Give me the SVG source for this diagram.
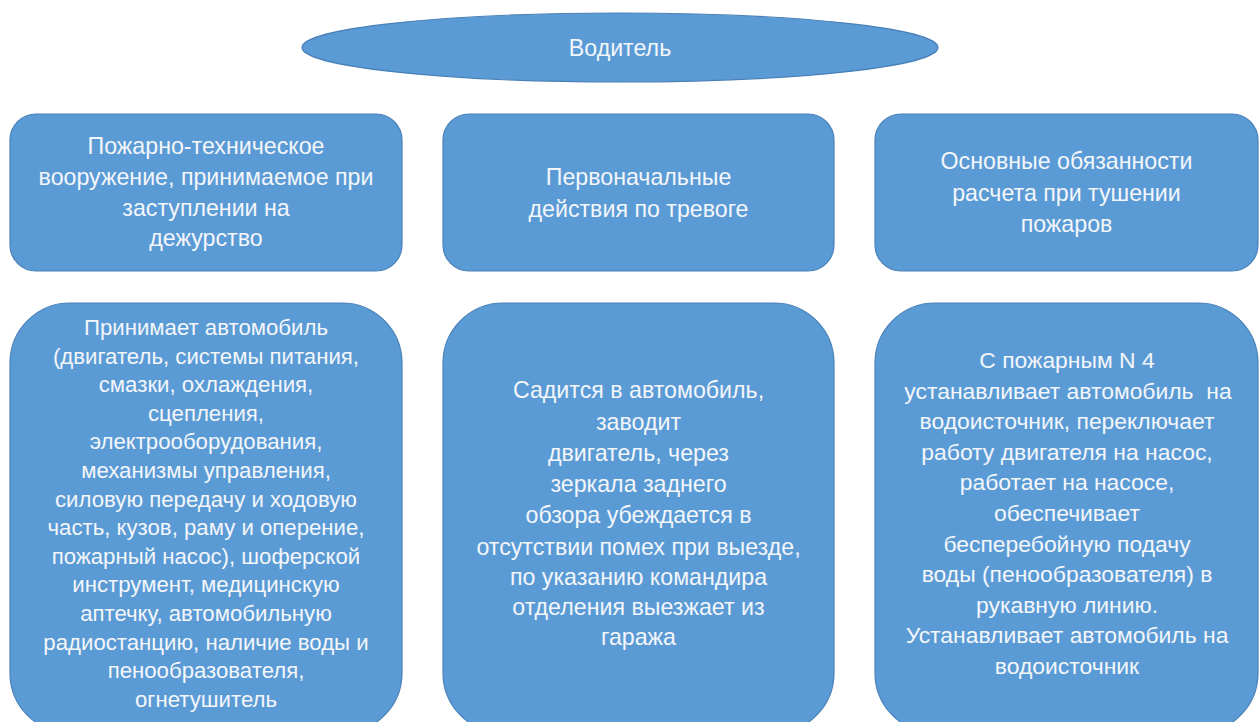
<svg xmlns="http://www.w3.org/2000/svg" width="1259" height="722" viewBox="0 0 1259 722">
  <style>
    .shape { fill: #5B9BD5; stroke: #4A80B8; stroke-width: 1.2; }
    .label { font-family: "Liberation Sans", Arial, sans-serif; font-size: 23.2px; fill: #F3F6FA; text-anchor: middle; }
    .dense { font-size: 22.2px; }
    .wide { font-size: 22.9px; }
    .pre { white-space: pre; }
  </style>
  <rect width="1259" height="722" fill="#FFFFFF"/>

  <!-- root -->
  <g id="node-driver">
    <ellipse class="shape" cx="620" cy="47.5" rx="318" ry="34.5"/>
    <text class="label" x="620" y="55.5">Водитель</text>
  </g>

  <!-- category row -->
  <g id="node-equipment">
    <rect class="shape" x="10" y="114" width="392" height="157" rx="26" ry="26"/>
    <text class="label" x="206" y="154">Пожарно-техническое</text>
    <text class="label" x="206" y="185">вооружение, принимаемое при</text>
    <text class="label" x="206" y="215.5">заступлении на</text>
    <text class="label" x="206" y="246">дежурство</text>
  </g>
  <g id="node-alarm">
    <rect class="shape" x="443" y="114" width="391" height="157" rx="26" ry="26"/>
    <text class="label" x="638.5" y="185">Первоначальные</text>
    <text class="label" x="638.5" y="217">действия по тревоге</text>
  </g>
  <g id="node-duties">
    <rect class="shape" x="875" y="114" width="383" height="157" rx="26" ry="26"/>
    <text class="label" x="1066.5" y="169">Основные обязанности</text>
    <text class="label" x="1066.5" y="201">расчета при тушении</text>
    <text class="label" x="1066.5" y="232">пожаров</text>
  </g>

  <!-- detail row -->
  <g id="node-equipment-detail">
    <rect class="shape" x="10" y="303" width="392" height="430" rx="60" ry="60"/>
    <g class="label dense">
      <text x="206" y="335">Принимает автомобиль</text>
      <text x="206" y="363.6">(двигатель, системы питания,</text>
      <text x="206" y="392.2">смазки, охлаждения,</text>
      <text x="206" y="420.8">сцепления,</text>
      <text x="206" y="449.4">электрооборудования,</text>
      <text x="206" y="478">механизмы управления,</text>
      <text x="206" y="506.6">силовую передачу и ходовую</text>
      <text x="206" y="535.2">часть, кузов, раму и оперение,</text>
      <text x="206" y="563.8">пожарный насос), шоферской</text>
      <text x="206" y="592.4">инструмент, медицинскую</text>
      <text x="206" y="621">аптечку, автомобильную</text>
      <text x="206" y="649.6">радиостанцию, наличие воды и</text>
      <text x="206" y="678.2">пенообразователя,</text>
      <text x="206" y="706.8">огнетушитель</text>
    </g>
  </g>
  <g id="node-alarm-detail">
    <rect class="shape" x="443" y="303" width="391" height="430" rx="60" ry="60"/>
    <g class="label">
      <text x="638.5" y="398">Садится в автомобиль,</text>
      <text x="638.5" y="430">заводит</text>
      <text x="638.5" y="461">двигатель, через</text>
      <text x="638.5" y="492">зеркала заднего</text>
      <text x="638.5" y="523">обзора убеждается в</text>
      <text x="638.5" y="555">отсутствии помех при выезде,</text>
      <text x="638.5" y="585">по указанию командира</text>
      <text x="638.5" y="615">отделения выезжает из</text>
      <text x="638.5" y="645">гаража</text>
    </g>
  </g>
  <g id="node-duties-detail">
    <rect class="shape" x="875" y="303" width="383" height="430" rx="60" ry="60"/>
    <g class="label wide">
      <text x="1067" y="368">С пожарным N 4</text>
      <text class="pre" x="1068" y="398.6">устанавливает автомобиль  на</text>
      <text x="1067" y="429.2">водоисточник, переключает</text>
      <text x="1067" y="459.8">работу двигателя на насос,</text>
      <text x="1067" y="490.4">работает на насосе,</text>
      <text x="1067" y="521">обеспечивает</text>
      <text x="1067" y="551.6">бесперебойную подачу</text>
      <text x="1067" y="582.2">воды (пенообразователя) в</text>
      <text x="1067" y="612.8">рукавную линию.</text>
      <text x="1067" y="643.4">Устанавливает автомобиль на</text>
      <text x="1067" y="674">водоисточник</text>
    </g>
  </g>

  <!-- the boxes stand on their own; no linking lines are drawn -->
  <g id="connectors"/>
</svg>
